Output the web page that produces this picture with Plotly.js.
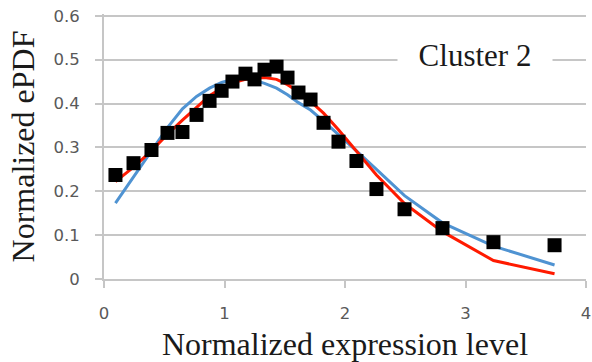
<!DOCTYPE html>
<html>
<head>
<meta charset="utf-8">
<script src="https://cdn.plot.ly/plotly-3.0.1.min.js"></script>
<style>
  html, body { margin: 0; padding: 0; background: #ffffff; }
  #chart { width: 592px; height: 362px; }
</style>
</head>
<body>
<div id="chart"></div>
<script>
// Normalized expression level (bin centres)
const expressionLevel = [0.095, 0.245, 0.394, 0.527, 0.651, 0.768, 0.876, 0.976, 1.066, 1.174,
  1.249, 1.332, 1.432, 1.523, 1.614, 1.714, 1.822, 1.946, 2.095, 2.261,
  2.494, 2.809, 3.232, 3.739];

// Empirical PDF (normalized)
const epdfObserved = [0.237, 0.264, 0.294, 0.333, 0.335, 0.374, 0.406, 0.429, 0.450, 0.468,
  0.455, 0.477, 0.484, 0.459, 0.425, 0.409, 0.356, 0.313, 0.269, 0.205,
  0.159, 0.116, 0.084, 0.077];

// Fitted model curves
const fitBlue = [0.173, 0.232, 0.290, 0.345, 0.388, 0.416, 0.435, 0.448, 0.455, 0.456,
  0.453, 0.446, 0.435, 0.420, 0.402, 0.385, 0.360, 0.330, 0.292, 0.250,
  0.190, 0.128, 0.075, 0.032];

const fitRed = [0.222, 0.255, 0.292, 0.330, 0.362, 0.392, 0.418, 0.435, 0.447, 0.455,
  0.458, 0.459, 0.455, 0.443, 0.427, 0.405, 0.378, 0.340, 0.290, 0.237,
  0.172, 0.108, 0.042, 0.012];

const xTicks = [0, 1, 2, 3, 4];
const yTicks = [0, 0.1, 0.2, 0.3, 0.4, 0.5, 0.6];
const clusterLabel = 'Cluster 2';

const gridGray = '#c6c6c6';
const serif = 'Liberation Serif, Times New Roman, serif';

const traces = [
  {
    x: expressionLevel, y: fitBlue, type: 'scatter', mode: 'lines',
    line: { color: '#4f93d2', width: 3 }, hoverinfo: 'skip'
  },
  {
    x: expressionLevel, y: fitRed, type: 'scatter', mode: 'lines',
    line: { color: '#ff1a00', width: 3 }, hoverinfo: 'skip'
  },
  {
    x: expressionLevel, y: epdfObserved, type: 'scatter', mode: 'markers',
    marker: { symbol: 'square', size: 14, color: '#000000', line: { width: 0 } }
  }
];

const layout = {
  width: 592,
  height: 362,
  margin: { l: 104, r: 6, t: 14, b: 83 },
  paper_bgcolor: '#ffffff',
  plot_bgcolor: '#ffffff',
  showlegend: false,
  xaxis: {
    range: [0, 4],
    tickvals: xTicks,
    ticktext: xTicks.map(String),
    showgrid: false,
    zeroline: false,
    showline: true,
    linecolor: gridGray,
    linewidth: 2,
    ticks: 'outside',
    ticklen: 7,
    tickwidth: 2,
    tickcolor: gridGray,
    ticklabelstandoff: 11,
    tickfont: { family: 'DejaVu Sans', size: 16.5, color: '#595959' },
    title: {
      text: 'Normalized expression level',
      font: { family: serif, size: 32, color: '#1a1a1a' },
      standoff: 13
    }
  },
  yaxis: {
    // a little headroom above 0.6 so the top gridline is drawn
    range: [0, 0.604],
    tickvals: yTicks,
    ticktext: yTicks.map(v => String(v)),
    showgrid: true,
    gridcolor: gridGray,
    gridwidth: 2,
    zeroline: false,
    showline: true,
    linecolor: gridGray,
    linewidth: 2,
    ticks: 'outside',
    ticklen: 7,
    tickwidth: 2,
    tickcolor: gridGray,
    ticklabelstandoff: 12,
    tickfont: { family: 'DejaVu Sans', size: 16.5, color: '#595959' },
    title: {
      text: 'Normalized ePDF',
      font: { family: serif, size: 32, color: '#1a1a1a' },
      standoff: 9
    }
  },
  annotations: [
    {
      x: 3.075, y: 0.51, xref: 'x', yref: 'y',
      text: clusterLabel,
      showarrow: false,
      xanchor: 'center', yanchor: 'middle',
      width: 154, height: 34,
      bgcolor: '#ffffff',
      borderpad: 0,
      font: { family: serif, size: 31, color: '#1a1a1a' }
    }
  ]
};

Plotly.newPlot('chart', traces, layout, { displayModeBar: false, staticPlot: true });
</script>
</body>
</html>
